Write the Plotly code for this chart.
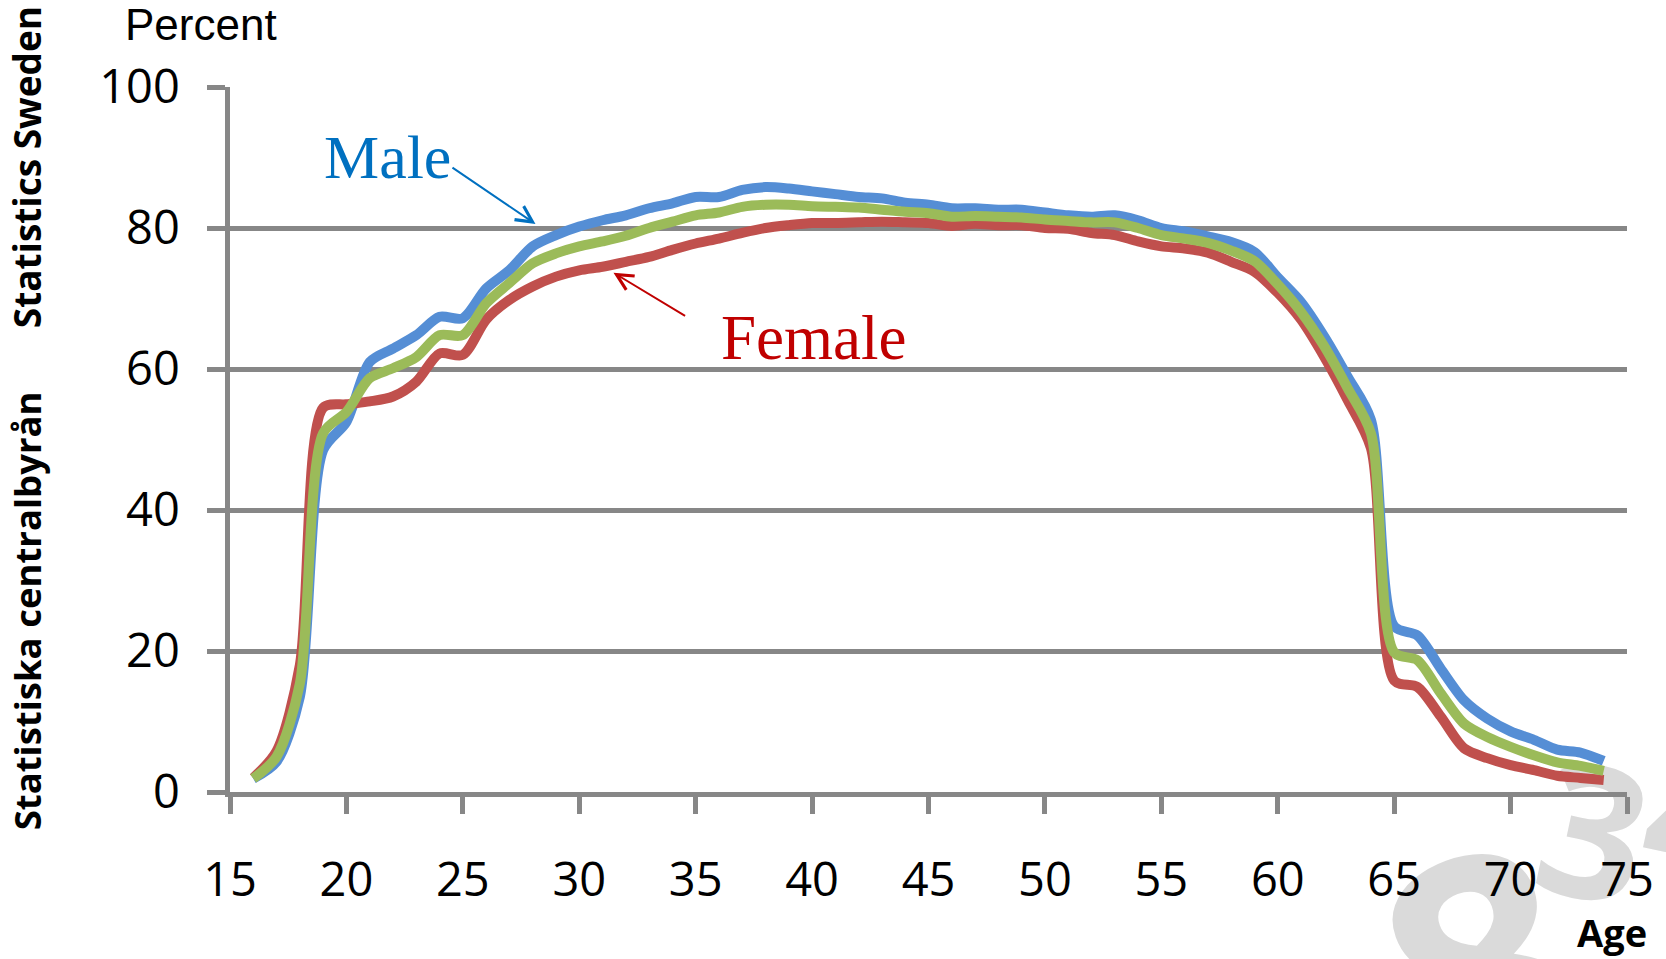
import plotly.graph_objects as go

ages = list(range(16, 75))
male = [1.9, 4.3, 13.5, 48.5, 52.5, 61.0, 62.9, 64.8, 67.4, 67.2,
        71.4, 74.0, 77.4, 79.0, 80.2, 81.1, 81.8, 82.8, 83.5, 84.4,
        84.4, 85.4, 85.8, 85.6, 85.2, 84.8, 84.4, 84.2, 83.6, 83.3,
        82.8, 82.8, 82.6, 82.6, 82.2, 81.8, 81.6, 81.8, 81.1, 80.0,
        79.5, 78.8, 78.0, 76.6, 73.0, 69.5, 64.6, 58.9, 52.8, 23.5,
        22.2, 17.5, 13.0, 10.4, 8.6, 7.4, 6.0, 5.6, 4.4]
female = [2.0, 5.8, 18.0, 54.5, 55.0, 55.4, 56.1, 58.2, 62.2, 62.0,
          67.0, 69.8, 71.7, 73.1, 74.0, 74.5, 75.2, 75.9, 76.9, 77.8,
          78.5, 79.3, 80.0, 80.4, 80.7, 80.7, 80.8, 80.9, 80.8, 80.7,
          80.3, 80.6, 80.4, 80.4, 80.0, 79.9, 79.3, 79.0, 78.1, 77.4,
          77.1, 76.5, 75.2, 73.8, 70.8, 67.0, 61.7, 55.6, 48.8, 15.8,
          14.9, 10.7, 6.2, 4.8, 3.8, 3.1, 2.3, 2.0, 1.7]
total = [1.9, 5.0, 15.4, 50.9, 53.9, 58.7, 60.1, 61.7, 64.8, 64.8,
         69.3, 72.2, 75.0, 76.4, 77.4, 78.1, 78.9, 80.0, 80.9, 81.8,
         82.2, 83.0, 83.3, 83.3, 83.1, 83.0, 82.9, 82.6, 82.3, 82.1,
         81.6, 81.7, 81.6, 81.5, 81.2, 81.0, 80.8, 80.8, 80.0, 79.0,
         78.5, 77.9, 76.8, 75.3, 72.0, 68.1, 63.2, 57.3, 50.9, 19.8,
         18.7, 14.0, 9.7, 7.8, 6.4, 5.2, 4.2, 3.7, 3.0]
x_ticks = [15, 20, 25, 30, 35, 40, 45, 50, 55, 60, 65, 70, 75]
y_ticks = [0, 20, 40, 60, 80, 100]

GRID = "#878787"
fig = go.Figure()
for name, vals, col in [("Male", male, "#558ED5"),
                        ("Female", female, "#C0504D"),
                        ("Total", total, "#9BBB59")]:
    fig.add_trace(go.Scatter(x=ages, y=vals, name=name, mode="lines",
                             line=dict(color=col, width=10, shape="spline", smoothing=0.8),
                             hoverinfo="skip"))

tickfont = dict(family="Open Sans", size=47, color="black")
fig.update_xaxes(range=[15, 75], tickvals=x_ticks, showgrid=False,
                 showline=True, linecolor=GRID, linewidth=4.5,
                 ticks="outside", ticklen=17, tickwidth=4.5, tickcolor=GRID,
                 tickfont=tickfont, ticklabelstandoff=26, zeroline=False)
fig.update_yaxes(range=[0, 100], tickvals=y_ticks, showgrid=True,
                 gridcolor=GRID, gridwidth=4.5,
                 showline=True, linecolor=GRID, linewidth=4.5,
                 ticks="outside", ticklen=18, tickwidth=4.5, tickcolor=GRID,
                 tickfont=tickfont, ticklabelstandoff=18, zeroline=False)


def label(text, x, y, font, angle=0):
    return dict(text=text, xref="paper", yref="paper", x=x, y=y,
                xanchor="center", yanchor="middle", textangle=angle,
                showarrow=False, font=font)


ann = [
    label("Percent", -0.0207, 1.0888, dict(family="Liberation Sans", size=44, color="black")),
    label("Male", 0.1127, 0.9007, dict(family="Liberation Serif", size=62, color="#0070C0")),
    label("Female", 0.418, 0.644, dict(family="Liberation Serif", size=63, color="#C00000")),
    label("Age", 0.9893, -0.1986, dict(family="Open Sans", size=38, color="black", weight="bold")),
    label("Statistics Sweden", -0.1455, 0.8858,
          dict(family="Open Sans", size=37, color="black", weight="bold"), -90),
    label("Statistiska centralbyrån", -0.1455, 0.2574,
          dict(family="Open Sans", size=36.5, color="black", weight="bold"), -90),
]
ann.append(dict(text="", x=28.12, y=80.57, ax=24.49, ay=88.7, xref="x", yref="y",
                axref="x", ayref="y", showarrow=True, arrowhead=5, arrowsize=1.6,
                arrowwidth=2, arrowcolor="#0070C0", standoff=0, startstandoff=0))
ann.append(dict(text="", x=31.47, y=73.66, ax=34.61, ay=67.4, xref="x", yref="y",
                axref="x", ayref="y", showarrow=True, arrowhead=5, arrowsize=1.6,
                arrowwidth=2, arrowcolor="#C00000", standoff=0, startstandoff=0))

# watermark digits behind the chart
shapes = []
for txt, cx, cy, sz, ang in [("8", 0.902, -0.27, 320, -20),
                             ("3", 0.975, -0.068, 185, 12),
                             ("4", 1.05, -0.05, 180, 12)]:
    shapes.append(dict(type="rect", xref="paper", yref="paper",
                       x0=cx - 0.01, x1=cx + 0.01, y0=cy - 0.01, y1=cy + 0.01,
                       line=dict(width=0), fillcolor="rgba(0,0,0,0)", layer="below",
                       label=dict(text=txt, textposition="middle center", textangle=ang,
                                  font=dict(family="Open Sans", size=sz, color="#dadada", weight="bold"))))

fig.update_layout(width=1666, height=959, margin=dict(l=230, r=34, t=87, b=167),
                  paper_bgcolor="white", plot_bgcolor="rgba(0,0,0,0)",
                  showlegend=False, annotations=ann, shapes=shapes)

fig.write_html("out.html", config={"displayModeBar": False},
               post_script="document.body.style.margin='0';document.body.style.overflow='hidden';")
